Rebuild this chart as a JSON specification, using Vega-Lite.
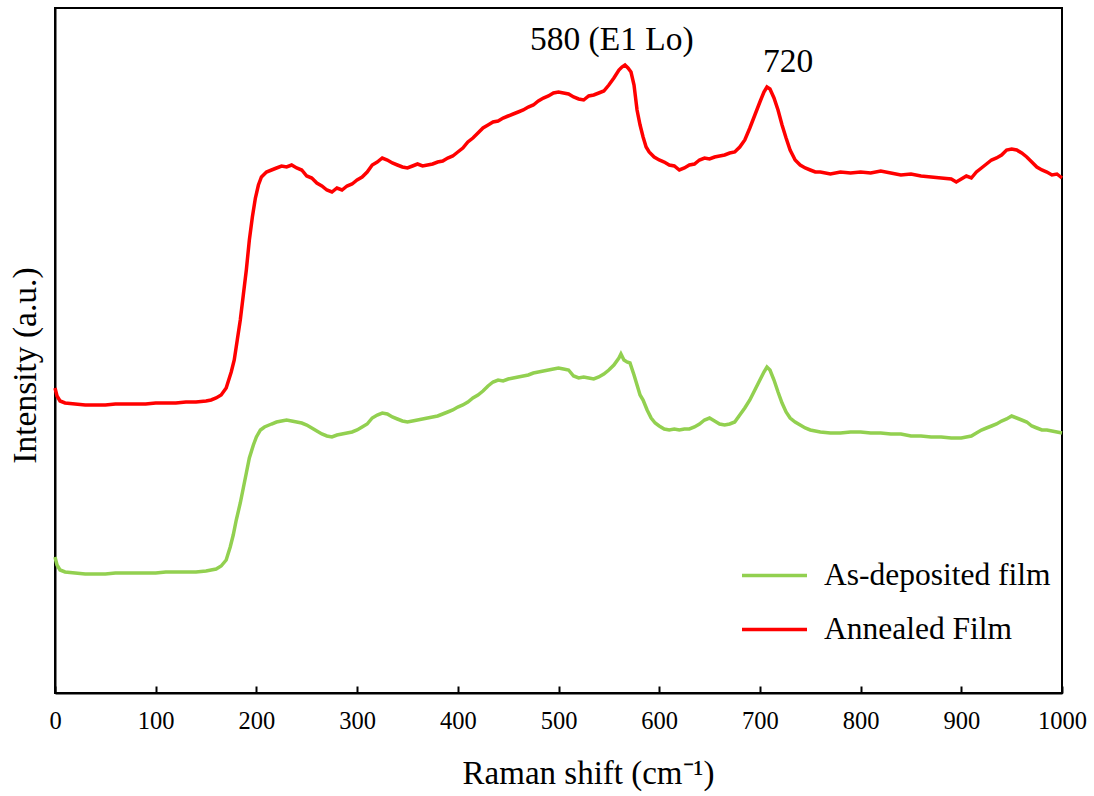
{
"$schema": "https://vega.github.io/schema/vega-lite/v6.json",
"width": 1007, "height": 685,
"autosize": {"type": "none"},
"padding": {"left": 55, "top": 8, "right": 32, "bottom": 103},
"background": "white",
"config": {"view": {"stroke": "black", "strokeWidth": 2}, "font": "Liberation Serif"},
"datasets": {
"spectra": [
{"x":0,"y":305,"s":"Annealed Film"},{"x":2,"y":297,"s":"Annealed Film"},{"x":5,"y":292,"s":"Annealed Film"},{"x":10,"y":290,"s":"Annealed Film"},{"x":20,"y":289,"s":"Annealed Film"},{"x":30,"y":288,"s":"Annealed Film"},{"x":40,"y":288,"s":"Annealed Film"},{"x":50,"y":288,"s":"Annealed Film"},{"x":60,"y":289,"s":"Annealed Film"},{"x":70,"y":289,"s":"Annealed Film"},{"x":80,"y":289,"s":"Annealed Film"},{"x":90,"y":289,"s":"Annealed Film"},{"x":100,"y":290,"s":"Annealed Film"},{"x":110,"y":290,"s":"Annealed Film"},{"x":120,"y":290,"s":"Annealed Film"},{"x":130,"y":291,"s":"Annealed Film"},{"x":140,"y":291,"s":"Annealed Film"},{"x":150,"y":292,"s":"Annealed Film"},{"x":155,"y":293,"s":"Annealed Film"},{"x":160,"y":295,"s":"Annealed Film"},{"x":165,"y":298,"s":"Annealed Film"},{"x":170,"y":305,"s":"Annealed Film"},{"x":175,"y":321,"s":"Annealed Film"},{"x":178,"y":333,"s":"Annealed Film"},{"x":181,"y":353,"s":"Annealed Film"},{"x":184,"y":373,"s":"Annealed Film"},{"x":187,"y":398,"s":"Annealed Film"},{"x":190,"y":423,"s":"Annealed Film"},{"x":193,"y":453,"s":"Annealed Film"},{"x":196,"y":476,"s":"Annealed Film"},{"x":199,"y":495,"s":"Annealed Film"},{"x":202,"y":508,"s":"Annealed Film"},{"x":205,"y":516,"s":"Annealed Film"},{"x":210,"y":521,"s":"Annealed Film"},{"x":215,"y":523,"s":"Annealed Film"},{"x":220,"y":525,"s":"Annealed Film"},{"x":225,"y":527,"s":"Annealed Film"},{"x":230,"y":526,"s":"Annealed Film"},{"x":235,"y":528,"s":"Annealed Film"},{"x":240,"y":525,"s":"Annealed Film"},{"x":245,"y":523,"s":"Annealed Film"},{"x":250,"y":517,"s":"Annealed Film"},{"x":255,"y":515,"s":"Annealed Film"},{"x":260,"y":510,"s":"Annealed Film"},{"x":265,"y":507,"s":"Annealed Film"},{"x":270,"y":503,"s":"Annealed Film"},{"x":275,"y":501,"s":"Annealed Film"},{"x":280,"y":505,"s":"Annealed Film"},{"x":285,"y":503,"s":"Annealed Film"},{"x":290,"y":507,"s":"Annealed Film"},{"x":295,"y":509,"s":"Annealed Film"},{"x":300,"y":513,"s":"Annealed Film"},{"x":305,"y":516,"s":"Annealed Film"},{"x":310,"y":521,"s":"Annealed Film"},{"x":315,"y":528,"s":"Annealed Film"},{"x":320,"y":531,"s":"Annealed Film"},{"x":325,"y":535,"s":"Annealed Film"},{"x":330,"y":533,"s":"Annealed Film"},{"x":335,"y":530,"s":"Annealed Film"},{"x":340,"y":528,"s":"Annealed Film"},{"x":345,"y":526,"s":"Annealed Film"},{"x":350,"y":525,"s":"Annealed Film"},{"x":355,"y":527,"s":"Annealed Film"},{"x":360,"y":529,"s":"Annealed Film"},{"x":365,"y":527,"s":"Annealed Film"},{"x":370,"y":528,"s":"Annealed Film"},{"x":375,"y":529,"s":"Annealed Film"},{"x":380,"y":531,"s":"Annealed Film"},{"x":385,"y":532,"s":"Annealed Film"},{"x":390,"y":535,"s":"Annealed Film"},{"x":395,"y":537,"s":"Annealed Film"},{"x":400,"y":541,"s":"Annealed Film"},{"x":405,"y":545,"s":"Annealed Film"},{"x":410,"y":551,"s":"Annealed Film"},{"x":415,"y":555,"s":"Annealed Film"},{"x":420,"y":560,"s":"Annealed Film"},{"x":425,"y":565,"s":"Annealed Film"},{"x":430,"y":568,"s":"Annealed Film"},{"x":435,"y":571,"s":"Annealed Film"},{"x":440,"y":572,"s":"Annealed Film"},{"x":445,"y":575,"s":"Annealed Film"},{"x":450,"y":577,"s":"Annealed Film"},{"x":455,"y":579,"s":"Annealed Film"},{"x":460,"y":581,"s":"Annealed Film"},{"x":465,"y":583,"s":"Annealed Film"},{"x":470,"y":586,"s":"Annealed Film"},{"x":475,"y":588,"s":"Annealed Film"},{"x":480,"y":592,"s":"Annealed Film"},{"x":485,"y":595,"s":"Annealed Film"},{"x":490,"y":597,"s":"Annealed Film"},{"x":495,"y":600,"s":"Annealed Film"},{"x":500,"y":601,"s":"Annealed Film"},{"x":505,"y":600,"s":"Annealed Film"},{"x":510,"y":599,"s":"Annealed Film"},{"x":515,"y":596,"s":"Annealed Film"},{"x":520,"y":594,"s":"Annealed Film"},{"x":525,"y":593,"s":"Annealed Film"},{"x":530,"y":597,"s":"Annealed Film"},{"x":535,"y":598,"s":"Annealed Film"},{"x":540,"y":600,"s":"Annealed Film"},{"x":545,"y":602,"s":"Annealed Film"},{"x":550,"y":608,"s":"Annealed Film"},{"x":555,"y":615,"s":"Annealed Film"},{"x":560,"y":623,"s":"Annealed Film"},{"x":563,"y":626,"s":"Annealed Film"},{"x":566,"y":628,"s":"Annealed Film"},{"x":569,"y":625,"s":"Annealed Film"},{"x":572,"y":621,"s":"Annealed Film"},{"x":575,"y":608,"s":"Annealed Film"},{"x":578,"y":583,"s":"Annealed Film"},{"x":581,"y":568,"s":"Annealed Film"},{"x":584,"y":556,"s":"Annealed Film"},{"x":587,"y":546,"s":"Annealed Film"},{"x":590,"y":541,"s":"Annealed Film"},{"x":595,"y":536,"s":"Annealed Film"},{"x":600,"y":533,"s":"Annealed Film"},{"x":605,"y":531,"s":"Annealed Film"},{"x":610,"y":528,"s":"Annealed Film"},{"x":615,"y":527,"s":"Annealed Film"},{"x":620,"y":523,"s":"Annealed Film"},{"x":625,"y":525,"s":"Annealed Film"},{"x":630,"y":528,"s":"Annealed Film"},{"x":635,"y":529,"s":"Annealed Film"},{"x":640,"y":533,"s":"Annealed Film"},{"x":645,"y":535,"s":"Annealed Film"},{"x":650,"y":534,"s":"Annealed Film"},{"x":655,"y":536,"s":"Annealed Film"},{"x":660,"y":537,"s":"Annealed Film"},{"x":665,"y":538,"s":"Annealed Film"},{"x":670,"y":540,"s":"Annealed Film"},{"x":675,"y":541,"s":"Annealed Film"},{"x":680,"y":546,"s":"Annealed Film"},{"x":685,"y":553,"s":"Annealed Film"},{"x":690,"y":565,"s":"Annealed Film"},{"x":695,"y":578,"s":"Annealed Film"},{"x":700,"y":591,"s":"Annealed Film"},{"x":704,"y":601,"s":"Annealed Film"},{"x":707,"y":606,"s":"Annealed Film"},{"x":710,"y":604,"s":"Annealed Film"},{"x":714,"y":595,"s":"Annealed Film"},{"x":718,"y":583,"s":"Annealed Film"},{"x":722,"y":568,"s":"Annealed Film"},{"x":726,"y":555,"s":"Annealed Film"},{"x":730,"y":543,"s":"Annealed Film"},{"x":735,"y":533,"s":"Annealed Film"},{"x":740,"y":528,"s":"Annealed Film"},{"x":745,"y":525,"s":"Annealed Film"},{"x":750,"y":523,"s":"Annealed Film"},{"x":755,"y":521,"s":"Annealed Film"},{"x":760,"y":521,"s":"Annealed Film"},{"x":770,"y":519,"s":"Annealed Film"},{"x":780,"y":521,"s":"Annealed Film"},{"x":790,"y":520,"s":"Annealed Film"},{"x":800,"y":521,"s":"Annealed Film"},{"x":810,"y":520,"s":"Annealed Film"},{"x":820,"y":522,"s":"Annealed Film"},{"x":830,"y":520,"s":"Annealed Film"},{"x":840,"y":518,"s":"Annealed Film"},{"x":850,"y":519,"s":"Annealed Film"},{"x":860,"y":517,"s":"Annealed Film"},{"x":870,"y":516,"s":"Annealed Film"},{"x":880,"y":515,"s":"Annealed Film"},{"x":890,"y":514,"s":"Annealed Film"},{"x":895,"y":511,"s":"Annealed Film"},{"x":900,"y":514,"s":"Annealed Film"},{"x":905,"y":517,"s":"Annealed Film"},{"x":910,"y":515,"s":"Annealed Film"},{"x":915,"y":521,"s":"Annealed Film"},{"x":920,"y":525,"s":"Annealed Film"},{"x":925,"y":529,"s":"Annealed Film"},{"x":930,"y":533,"s":"Annealed Film"},{"x":935,"y":535,"s":"Annealed Film"},{"x":940,"y":538,"s":"Annealed Film"},{"x":945,"y":543,"s":"Annealed Film"},{"x":950,"y":544,"s":"Annealed Film"},{"x":955,"y":543,"s":"Annealed Film"},{"x":960,"y":540,"s":"Annealed Film"},{"x":965,"y":536,"s":"Annealed Film"},{"x":970,"y":531,"s":"Annealed Film"},{"x":975,"y":526,"s":"Annealed Film"},{"x":980,"y":523,"s":"Annealed Film"},{"x":985,"y":521,"s":"Annealed Film"},{"x":990,"y":518,"s":"Annealed Film"},{"x":995,"y":519,"s":"Annealed Film"},{"x":1000,"y":515,"s":"Annealed Film"},
{"x":0,"y":136,"s":"As-deposited film"},{"x":2,"y":128,"s":"As-deposited film"},{"x":5,"y":123,"s":"As-deposited film"},{"x":10,"y":121,"s":"As-deposited film"},{"x":20,"y":120,"s":"As-deposited film"},{"x":30,"y":119,"s":"As-deposited film"},{"x":40,"y":119,"s":"As-deposited film"},{"x":50,"y":119,"s":"As-deposited film"},{"x":60,"y":120,"s":"As-deposited film"},{"x":70,"y":120,"s":"As-deposited film"},{"x":80,"y":120,"s":"As-deposited film"},{"x":90,"y":120,"s":"As-deposited film"},{"x":100,"y":120,"s":"As-deposited film"},{"x":110,"y":121,"s":"As-deposited film"},{"x":120,"y":121,"s":"As-deposited film"},{"x":130,"y":121,"s":"As-deposited film"},{"x":140,"y":121,"s":"As-deposited film"},{"x":150,"y":122,"s":"As-deposited film"},{"x":155,"y":123,"s":"As-deposited film"},{"x":160,"y":124,"s":"As-deposited film"},{"x":165,"y":127,"s":"As-deposited film"},{"x":170,"y":133,"s":"As-deposited film"},{"x":174,"y":146,"s":"As-deposited film"},{"x":177,"y":158,"s":"As-deposited film"},{"x":180,"y":173,"s":"As-deposited film"},{"x":184,"y":190,"s":"As-deposited film"},{"x":187,"y":205,"s":"As-deposited film"},{"x":190,"y":220,"s":"As-deposited film"},{"x":193,"y":235,"s":"As-deposited film"},{"x":197,"y":248,"s":"As-deposited film"},{"x":200,"y":256,"s":"As-deposited film"},{"x":204,"y":263,"s":"As-deposited film"},{"x":208,"y":266,"s":"As-deposited film"},{"x":215,"y":269,"s":"As-deposited film"},{"x":220,"y":271,"s":"As-deposited film"},{"x":225,"y":272,"s":"As-deposited film"},{"x":230,"y":273,"s":"As-deposited film"},{"x":235,"y":272,"s":"As-deposited film"},{"x":240,"y":271,"s":"As-deposited film"},{"x":245,"y":270,"s":"As-deposited film"},{"x":250,"y":268,"s":"As-deposited film"},{"x":255,"y":265,"s":"As-deposited film"},{"x":260,"y":262,"s":"As-deposited film"},{"x":265,"y":259,"s":"As-deposited film"},{"x":270,"y":257,"s":"As-deposited film"},{"x":275,"y":256,"s":"As-deposited film"},{"x":280,"y":258,"s":"As-deposited film"},{"x":285,"y":259,"s":"As-deposited film"},{"x":290,"y":260,"s":"As-deposited film"},{"x":295,"y":261,"s":"As-deposited film"},{"x":300,"y":263,"s":"As-deposited film"},{"x":305,"y":266,"s":"As-deposited film"},{"x":310,"y":269,"s":"As-deposited film"},{"x":315,"y":275,"s":"As-deposited film"},{"x":320,"y":278,"s":"As-deposited film"},{"x":325,"y":280,"s":"As-deposited film"},{"x":330,"y":279,"s":"As-deposited film"},{"x":335,"y":276,"s":"As-deposited film"},{"x":340,"y":274,"s":"As-deposited film"},{"x":345,"y":272,"s":"As-deposited film"},{"x":350,"y":271,"s":"As-deposited film"},{"x":355,"y":272,"s":"As-deposited film"},{"x":360,"y":273,"s":"As-deposited film"},{"x":365,"y":274,"s":"As-deposited film"},{"x":370,"y":275,"s":"As-deposited film"},{"x":375,"y":276,"s":"As-deposited film"},{"x":380,"y":277,"s":"As-deposited film"},{"x":385,"y":279,"s":"As-deposited film"},{"x":390,"y":281,"s":"As-deposited film"},{"x":395,"y":283,"s":"As-deposited film"},{"x":400,"y":286,"s":"As-deposited film"},{"x":405,"y":288,"s":"As-deposited film"},{"x":410,"y":291,"s":"As-deposited film"},{"x":415,"y":295,"s":"As-deposited film"},{"x":420,"y":298,"s":"As-deposited film"},{"x":425,"y":302,"s":"As-deposited film"},{"x":430,"y":307,"s":"As-deposited film"},{"x":435,"y":311,"s":"As-deposited film"},{"x":440,"y":313,"s":"As-deposited film"},{"x":445,"y":312,"s":"As-deposited film"},{"x":450,"y":314,"s":"As-deposited film"},{"x":455,"y":315,"s":"As-deposited film"},{"x":460,"y":316,"s":"As-deposited film"},{"x":465,"y":317,"s":"As-deposited film"},{"x":470,"y":318,"s":"As-deposited film"},{"x":475,"y":320,"s":"As-deposited film"},{"x":480,"y":321,"s":"As-deposited film"},{"x":485,"y":322,"s":"As-deposited film"},{"x":490,"y":323,"s":"As-deposited film"},{"x":495,"y":324,"s":"As-deposited film"},{"x":500,"y":325,"s":"As-deposited film"},{"x":505,"y":324,"s":"As-deposited film"},{"x":510,"y":323,"s":"As-deposited film"},{"x":515,"y":317,"s":"As-deposited film"},{"x":520,"y":315,"s":"As-deposited film"},{"x":525,"y":316,"s":"As-deposited film"},{"x":530,"y":315,"s":"As-deposited film"},{"x":535,"y":314,"s":"As-deposited film"},{"x":540,"y":316,"s":"As-deposited film"},{"x":545,"y":319,"s":"As-deposited film"},{"x":550,"y":323,"s":"As-deposited film"},{"x":555,"y":328,"s":"As-deposited film"},{"x":560,"y":335,"s":"As-deposited film"},{"x":562,"y":339,"s":"As-deposited film"},{"x":565,"y":333,"s":"As-deposited film"},{"x":568,"y":331,"s":"As-deposited film"},{"x":571,"y":330,"s":"As-deposited film"},{"x":575,"y":318,"s":"As-deposited film"},{"x":578,"y":308,"s":"As-deposited film"},{"x":581,"y":298,"s":"As-deposited film"},{"x":584,"y":293,"s":"As-deposited film"},{"x":588,"y":283,"s":"As-deposited film"},{"x":592,"y":275,"s":"As-deposited film"},{"x":596,"y":270,"s":"As-deposited film"},{"x":600,"y":267,"s":"As-deposited film"},{"x":605,"y":264,"s":"As-deposited film"},{"x":610,"y":263,"s":"As-deposited film"},{"x":615,"y":264,"s":"As-deposited film"},{"x":620,"y":263,"s":"As-deposited film"},{"x":625,"y":264,"s":"As-deposited film"},{"x":630,"y":264,"s":"As-deposited film"},{"x":635,"y":266,"s":"As-deposited film"},{"x":640,"y":269,"s":"As-deposited film"},{"x":645,"y":273,"s":"As-deposited film"},{"x":650,"y":275,"s":"As-deposited film"},{"x":655,"y":272,"s":"As-deposited film"},{"x":660,"y":269,"s":"As-deposited film"},{"x":665,"y":268,"s":"As-deposited film"},{"x":670,"y":269,"s":"As-deposited film"},{"x":675,"y":271,"s":"As-deposited film"},{"x":680,"y":278,"s":"As-deposited film"},{"x":685,"y":285,"s":"As-deposited film"},{"x":690,"y":293,"s":"As-deposited film"},{"x":695,"y":303,"s":"As-deposited film"},{"x":700,"y":313,"s":"As-deposited film"},{"x":704,"y":321,"s":"As-deposited film"},{"x":707,"y":326,"s":"As-deposited film"},{"x":710,"y":323,"s":"As-deposited film"},{"x":714,"y":313,"s":"As-deposited film"},{"x":718,"y":301,"s":"As-deposited film"},{"x":722,"y":290,"s":"As-deposited film"},{"x":726,"y":281,"s":"As-deposited film"},{"x":730,"y":275,"s":"As-deposited film"},{"x":735,"y":271,"s":"As-deposited film"},{"x":740,"y":268,"s":"As-deposited film"},{"x":745,"y":265,"s":"As-deposited film"},{"x":750,"y":263,"s":"As-deposited film"},{"x":755,"y":262,"s":"As-deposited film"},{"x":760,"y":261,"s":"As-deposited film"},{"x":770,"y":260,"s":"As-deposited film"},{"x":780,"y":260,"s":"As-deposited film"},{"x":790,"y":261,"s":"As-deposited film"},{"x":800,"y":261,"s":"As-deposited film"},{"x":810,"y":260,"s":"As-deposited film"},{"x":820,"y":260,"s":"As-deposited film"},{"x":830,"y":259,"s":"As-deposited film"},{"x":840,"y":259,"s":"As-deposited film"},{"x":850,"y":257,"s":"As-deposited film"},{"x":860,"y":257,"s":"As-deposited film"},{"x":870,"y":256,"s":"As-deposited film"},{"x":880,"y":256,"s":"As-deposited film"},{"x":890,"y":255,"s":"As-deposited film"},{"x":900,"y":255,"s":"As-deposited film"},{"x":905,"y":256,"s":"As-deposited film"},{"x":910,"y":257,"s":"As-deposited film"},{"x":915,"y":260,"s":"As-deposited film"},{"x":920,"y":263,"s":"As-deposited film"},{"x":925,"y":265,"s":"As-deposited film"},{"x":930,"y":267,"s":"As-deposited film"},{"x":935,"y":269,"s":"As-deposited film"},{"x":940,"y":272,"s":"As-deposited film"},{"x":945,"y":274,"s":"As-deposited film"},{"x":950,"y":277,"s":"As-deposited film"},{"x":955,"y":275,"s":"As-deposited film"},{"x":960,"y":273,"s":"As-deposited film"},{"x":965,"y":271,"s":"As-deposited film"},{"x":970,"y":267,"s":"As-deposited film"},{"x":975,"y":265,"s":"As-deposited film"},{"x":980,"y":263,"s":"As-deposited film"},{"x":985,"y":263,"s":"As-deposited film"},{"x":990,"y":262,"s":"As-deposited film"},{"x":995,"y":261,"s":"As-deposited film"},{"x":1000,"y":260,"s":"As-deposited film"}
],
"labels": [
{"x":553,"y":653,"t":"580 (E1 Lo)"},
{"x":728,"y":631,"t":"720"}
]
},
"layer": [
{
"data": {"name": "spectra"},
"mark": {"type": "line", "strokeWidth": 3.5, "interpolate": "linear"},
"encoding": {
"x": {"field": "x", "type": "quantitative", "scale": {"domain": [0, 1000], "nice": false},
"axis": {"title": "Raman shift (cm⁻¹)", "values": [0,100,200,300,400,500,600,700,800,900,1000], "format": "d", "grid": false,
"domainColor": "black", "domainWidth": 2, "tickColor": "black", "tickWidth": 2, "tickSize": -7,
"labelFont": "Liberation Serif", "labelFontSize": 24.5, "labelColor": "black", "labelPadding": 23,
"titleFont": "Liberation Serif", "titleFontSize": 33, "titleFontWeight": "normal", "titleColor": "black",
"titleX": 533, "titleY": 80, "titleBaseline": "middle", "titleAlign": "center", "labelFlush": false}},
"y": {"field": "y", "type": "quantitative", "scale": {"domain": [0, 685], "nice": false},
"axis": {"title": "Intensity (a.u.)", "ticks": false, "labels": false, "grid": false,
"domainColor": "black", "domainWidth": 2,
"titleFont": "Liberation Serif", "titleFontSize": 33.5, "titleFontWeight": "normal", "titleColor": "black",
"titleX": -30, "titleY": 357, "titleBaseline": "middle", "titleAlign": "center"}},
"color": {"field": "s", "type": "nominal",
"scale": {"domain": ["As-deposited film", "Annealed Film"], "range": ["#92d050", "#ff0000"]},
"legend": {"title": null, "orient": "none", "legendX": 685, "legendY": 533,
"symbolType": "stroke", "symbolSize": 4225, "symbolStrokeWidth": 3.5,
"labelFont": "Liberation Serif", "labelFontSize": 31.5, "labelColor": "black", "labelOffset": 15,
"rowPadding": 4, "labelLimit": 400}},
"detail": {"field": "s"}
}
},
{
"data": {"name": "labels"},
"mark": {"type": "text", "font": "Liberation Serif", "fontSize": 33.5, "color": "black", "baseline": "middle", "align": "center"},
"encoding": {
"x": {"field": "x", "type": "quantitative"},
"y": {"field": "y", "type": "quantitative"},
"text": {"field": "t"}
}
}
]
}
